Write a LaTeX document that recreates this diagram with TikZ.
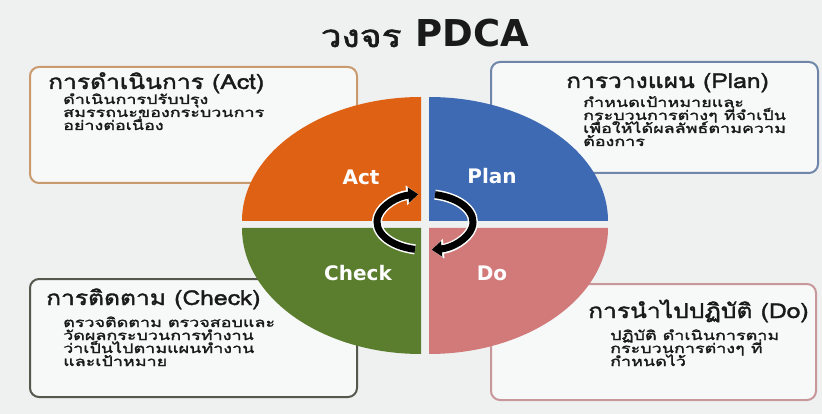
\documentclass[tikz,border=0pt]{standalone}
\usepackage{fontspec}
\newfontfamily\thaiw[Script=Thai, FakeStretch=1.2, FakeBold=1.8]{Loma}
\newfontfamily\thaib[Script=Thai, FakeStretch=1.38, FakeBold=2]{Loma}
\newfontfamily\dvs{DejaVu Sans}
\usetikzlibrary{arrows.meta}
\definecolor{bg}{HTML}{EFF1F1}
\definecolor{boxfill}{HTML}{F7F8F8}
\definecolor{actc}{HTML}{DF6113}
\definecolor{planc}{HTML}{3D6AB3}
\definecolor{checkc}{HTML}{5A7E2E}
\definecolor{doc}{HTML}{D27A7A}
\definecolor{actb}{HTML}{C99A6E}
\definecolor{planb}{HTML}{6F86A8}
\definecolor{checkb}{HTML}{55584D}
\definecolor{dob}{HTML}{C8979A}
\definecolor{txt}{HTML}{1A1A1A}
\tikzset{
  infobox/.style={fill=boxfill, line width=2pt, rounded corners=9pt},
  boxtitle/.style={anchor=base west, inner sep=0pt, text=txt, font=\thaiw\fontsize{20.5}{20.5}\selectfont},
  boxbody/.style={anchor=base west, inner sep=0pt, text=txt, font=\thaib\fontsize{13}{13}\selectfont},
  quadlabel/.style={anchor=base, inner sep=0pt, text=white, font=\dvs\bfseries\fontsize{20}{20}\selectfont},
  cycglow/.style={line width=10pt, white, -{Triangle[length=12pt,width=19pt]}},
  cycline/.style={line width=7pt, black, -{Triangle[length=10pt,width=15pt]}}
}
\begin{document}
\begin{tikzpicture}[x=1pt,y=-1pt]
\fill[bg] (0,0) rectangle (822,414);
\useasboundingbox (0,0) rectangle (822,414);

% title
\node[anchor=base, inner sep=0pt, text=txt] (title) at (425,47)
  {{\thaiw\fontsize{31}{31}\selectfont วงจร}\hspace{14pt}{\dvs\bfseries\fontsize{37}{37}\selectfont PDCA}};

% info boxes
\draw[infobox, draw=actb]   (30,67)  rectangle (357,183);
\draw[infobox, draw=planb]  (491,62) rectangle (818,173);
\draw[infobox, draw=checkb] (30,279) rectangle (357,397);
\draw[infobox, draw=dob]    (491,284) rectangle (816,400);

% Act box text
\node[boxtitle] (actT) at (48,89) {การดำเนินการ (Act)};
\node[boxbody] (actB1) at (63,104) {ดำเนินการปรับปรุง};
\node[boxbody] (actB2) at (63,117) {สมรรถนะของกระบวนการ};
\node[boxbody] (actB3) at (63,130) {อย่างต่อเนื่อง};

% Plan box text
\node[boxtitle] (planT) at (566,88) {การวางแผน (Plan)};
\node[boxbody] (planB1) at (583,107) {กำหนดเป้าหมายและ};
\node[boxbody] (planB2) at (583,120) {กระบวนการต่างๆ ที่จำเป็น};
\node[boxbody] (planB3) at (583,133) {เพื่อให้ได้ผลลัพธ์ตามความ};
\node[boxbody] (planB4) at (583,146) {ต้องการ};

% Check box text
\node[boxtitle] (checkT) at (46,305) {การติดตาม (Check)};
\node[boxbody] (checkB1) at (63,327) {ตรวจติดตาม ตรวจสอบและ};
\node[boxbody] (checkB2) at (63,340) {วัดผลกระบวนการทำงาน};
\node[boxbody] (checkB3) at (63,353) {ว่าเป็นไปตามแผนทำงาน};
\node[boxbody] (checkB4) at (63,366) {และเป้าหมาย};

% Do box text
\node[boxtitle] (doT) at (588,318) {การนำไปปฏิบัติ (Do)};
\node[boxbody] (doB1) at (610,340) {ปฏิบัติ ดำเนินการตาม};
\node[boxbody] (doB2) at (610,353) {กระบวนการต่างๆ ที่};
\node[boxbody] (doB3) at (610,366) {กำหนดไว้};

% quadrants
\fill[actc]   (421,221) -- (242,221) arc[start angle=180, end angle=270, x radius=179, y radius=124] -- cycle;
\fill[planc]  (429,221) -- (429,97)  arc[start angle=270, end angle=360, x radius=179, y radius=124] -- cycle;
\fill[doc]    (429,228) -- (608,228) arc[start angle=0,   end angle=90,  x radius=179, y radius=126] -- cycle;
\fill[checkc] (421,228) -- (421,354) arc[start angle=90,  end angle=180, x radius=179, y radius=126] -- cycle;

\node[quadlabel] (lact)   at (361,185) {Act};
\node[quadlabel] (lplan)  at (492,184) {Plan};
\node[quadlabel] (lcheck) at (358,280) {Check};
\node[quadlabel] (ldo)    at (492,280) {Do};

% cycle arrows
\coordinate (cyc) at (425,222);
\draw[cycglow] (cyc) ++(102:48 and 28) arc[start angle=102, end angle=262, x radius=48, y radius=28];
\draw[cycglow] (cyc) ++(-78:48 and 28) arc[start angle=-78, end angle=82, x radius=48, y radius=28];
\draw[cycline] (cyc) ++(102:48 and 28) arc[start angle=102, end angle=262, x radius=48, y radius=28];
\draw[cycline] (cyc) ++(-78:48 and 28) arc[start angle=-78, end angle=82, x radius=48, y radius=28];
\end{tikzpicture}
\end{document}
